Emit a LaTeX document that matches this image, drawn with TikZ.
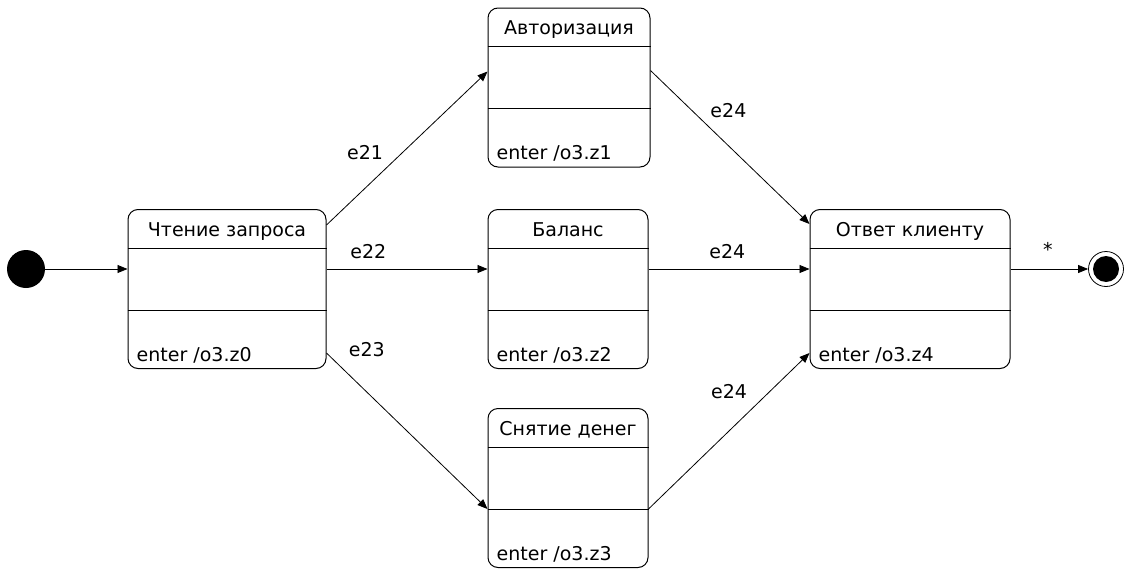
\documentclass[tikz,border=0pt]{standalone}
\usepackage{fontspec}
\setmainfont{DejaVu Sans}
\usetikzlibrary{arrows.meta}

\begin{document}
\begin{tikzpicture}[x=1pt,y=-1pt,>={Triangle[length=10pt,width=8pt]},
  font=\fontsize{19}{22}\selectfont,
  state node/.style={draw,rounded corners=10pt,line width=1pt,minimum height=159pt,inner sep=0pt},
  title node/.style={anchor=base,inner sep=0pt},
  action node/.style={anchor=base west,inner sep=0pt},
  every edge/.style={draw,->,line width=0.8pt}]
  \useasboundingbox (0,0) rectangle (1124,570);
  \node[circle,fill=black,minimum size=38pt,inner sep=0pt] (init) at (26,269) {};
  \node[state node,minimum width=198pt] (read) at (227,289) {};
  \node[state node,minimum width=162pt] (auth) at (569,87.5) {};
  \node[state node,minimum width=160pt] (bal) at (568,289) {};
  \node[state node,minimum width=160pt] (cash) at (568,488) {};
  \node[state node,minimum width=200pt] (reply) at (910,289) {};
  \node[circle,draw,line width=0.8pt,minimum size=35pt,inner sep=0pt,
    path picture={\fill (path picture bounding box.center) circle (13pt);}] (final) at (1106,269) {};

  \foreach \s in {read,auth,bal,cash,reply} {
    \draw[line width=1pt] ([yshift=-39pt]\s.north west) -- ([yshift=-39pt]\s.north east);
    \draw[line width=1pt] ([yshift=-101pt]\s.north west) -- ([yshift=-101pt]\s.north east);
  }

  \node[title node] (read-t) at ([yshift=-27pt]read.north) {Чтение запроса};
  \node[title node] (auth-t) at ([yshift=-27pt]auth.north) {Авторизация};
  \node[title node] (bal-t) at ([yshift=-27pt]bal.north) {Баланс};
  \node[title node] (cash-t) at ([yshift=-27pt]cash.north) {Снятие денег};
  \node[title node] (reply-t) at ([yshift=-27pt]reply.north) {Ответ клиенту};

  \node[action node] (read-a) at ([xshift=9pt,yshift=8pt]read.south west) {enter /o3.z0};
  \node[action node] (auth-a) at ([xshift=9pt,yshift=8pt]auth.south west) {enter /o3.z1};
  \node[action node] (bal-a) at ([xshift=9pt,yshift=8pt]bal.south west) {enter /o3.z2};
  \node[action node] (cash-a) at ([xshift=9pt,yshift=8pt]cash.south west) {enter /o3.z3};
  \node[action node] (reply-a) at ([xshift=9pt,yshift=8pt]reply.south west) {enter /o3.z4};

  \path
  (init) edge ([yshift=20pt]read.west)
  ([yshift=-16pt]read.north east) edge node[pos=0.24,yshift=36pt] {e21} ([yshift=-64pt]auth.north west)
  ([yshift=20pt]read.east) edge node[pos=0.26,yshift=17pt] {e22} ([yshift=20pt]bal.west)
  ([yshift=16pt]read.south east) edge node[pos=0.25,yshift=42pt] {e23} ([yshift=-101pt]cash.north west)
  ([yshift=-63pt]auth.north east) edge node[pos=0.49,yshift=35pt] {e24} ([yshift=-15pt]reply.north west)
  ([yshift=20pt]bal.east) edge node[pos=0.49,yshift=17pt] {e24} ([yshift=20pt]reply.west)
  ([yshift=-101pt]cash.north east) edge node[pos=0.5,yshift=39pt] {e24} ([yshift=16pt]reply.south west)
  ([yshift=20pt]reply.east) edge node[pos=0.48,yshift=20pt] {*} (final);
\end{tikzpicture}
\end{document}
